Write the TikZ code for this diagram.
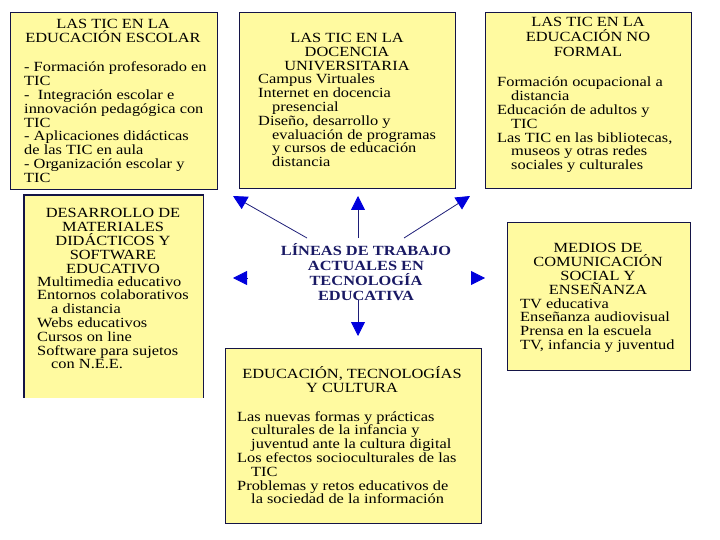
\documentclass[tikz,border=0pt]{standalone}
\usepackage{fontspec}
\setmainfont{Liberation Serif}[FakeStretch=1.17]
\usetikzlibrary{arrows.meta}
\definecolor{boxyellow}{RGB}{255,250,160}
\definecolor{boxline}{RGB}{20,20,70}
\definecolor{arrowblue}{RGB}{0,0,220}
\definecolor{linenavy}{RGB}{30,30,120}
\definecolor{titlenavy}{RGB}{25,25,100}
\newcommand{\indt}{\hspace*{14pt}}
\newcommand{\fixlines}{\lineskip=0pt\lineskiplimit=-20pt}

\begin{document}
\begin{tikzpicture}[x=1pt,y=-1pt,
  panel/.style={fill=boxyellow,draw=boxline,line width=1.2pt,anchor=north west,inner sep=0pt},
  head/.style={font=\fontsize{14}{14}\selectfont\fixlines,align=center,anchor=base,inner sep=0pt},
  body/.style={font=\fontsize{14}{13.8}\selectfont\fixlines,align=left,anchor=base west,inner sep=0pt},
  arr/.style={draw=linenavy,line width=0.8pt,-{Triangle[length=14pt,width=14pt,fill=arrowblue,color=arrowblue]}}]
  \useasboundingbox (0,0) rectangle (720,540);

  % the six boxes
  \node[panel,minimum width=207pt,minimum height=177pt] (escolar) at (10,12) {};
  \node[panel,minimum width=216pt,minimum height=176pt] (docencia) at (239,12) {};
  \node[panel,minimum width=206pt,minimum height=176pt] (noformal) at (485,12) {};
  \node[panel,draw=none,minimum width=178pt,minimum height=202pt] (materiales) at (24,195) {};
  \draw[boxline,line width=1.2pt] (materiales.south west) -- (materiales.north west) -- (materiales.north east) -- (materiales.south east);
  \node[panel,minimum width=183pt,minimum height=148pt] (medios) at (507,222) {};
  \node[panel,minimum width=256pt,minimum height=175pt] (cultura) at (225,348) {};

  % texts (anchored at the baseline of their last line)
  \node[head] (escolar-h) at (113,43) {LAS TIC EN LA\\EDUCACIÓN ESCOLAR};
  \node[body] (escolar-b) at (24,182.4) {- Formación profesorado en\\TIC\\-\ \ Integración escolar e\\innovación pedagógica con\\TIC\\- Aplicaciones didácticas\\de las TIC en aula\\- Organización escolar y\\TIC};

  \node[head] (docencia-h) at (347,71) {LAS TIC EN LA\\DOCENCIA\\UNIVERSITARIA};
  \node[body] (docencia-b) at (258,166.8) {Campus Virtuales\\Internet en docencia\\\indt presencial\\Diseño, desarrollo y\\\indt evaluación de programas\\\indt y cursos de educación\\\indt distancia};

  \node[head,font=\fontsize{14}{15}\selectfont\fixlines] (noformal-h) at (588,57) {LAS TIC EN LA\\EDUCACIÓN NO\\FORMAL};
  \node[body] (noformal-b) at (497,169.8) {Formación ocupacional a\\\indt distancia\\Educación de adultos y\\\indt TIC\\Las TIC en las bibliotecas,\\\indt museos y otras redes\\\indt sociales y culturales};

  \node[head] (materiales-h) at (113,273) {DESARROLLO DE\\MATERIALES\\DIDÁCTICOS Y\\SOFTWARE\\EDUCATIVO};
  \node[body] (materiales-b) at (37,368.8) {Multimedia educativo\\Entornos colaborativos\\\indt a distancia\\Webs educativos\\Cursos on line\\Software para sujetos\\\indt con N.E.E.};

  \node[head] (medios-h) at (598,294) {MEDIOS DE\\COMUNICACIÓN\\SOCIAL Y\\ENSEÑANZA};
  \node[body] (medios-b) at (520,349.4) {TV educativa\\Enseñanza audiovisual\\Prensa en la escuela\\TV, infancia y juventud};

  \node[head] (cultura-h) at (352,392) {EDUCACIÓN, TECNOLOGÍAS\\Y CULTURA};
  \node[body] (cultura-b) at (237,503.8) {Las nuevas formas y prácticas\\\indt culturales de la infancia y\\\indt juventud ante la cultura digital\\Los efectos socioculturales de las\\\indt TIC\\Problemas y retos educativos de\\\indt la sociedad de la información};

  % centre
  \node[head,font=\fontsize{14}{15}\selectfont\bfseries\fixlines,text=titlenavy] (lineas) at (366,300) {LÍNEAS DE TRABAJO\\ACTUALES EN\\TECNOLOGÍA\\EDUCATIVA};

  % arrows
  \coordinate (s-ul) at (307,238); \coordinate (t-ul) at (233,196);
  \coordinate (s-up) at (358,238); \coordinate (t-up) at (358,196);
  \coordinate (s-ur) at (404,238); \coordinate (t-ur) at (470,196);
  \coordinate (s-l) at (247,278);  \coordinate (t-l) at (233,278);
  \coordinate (s-r) at (471,278);  \coordinate (t-r) at (485,278);
  \coordinate (s-dn) at (358,300); \coordinate (t-dn) at (358,336);
  \draw[arr] (s-ul) -- (t-ul);
  \draw[arr] (s-up) -- (t-up);
  \draw[arr] (s-ur) -- (t-ur);
  \draw[arr] (s-l) -- (t-l);
  \draw[arr] (s-r) -- (t-r);
  \draw[arr] (s-dn) -- (t-dn);
\end{tikzpicture}
\end{document}
